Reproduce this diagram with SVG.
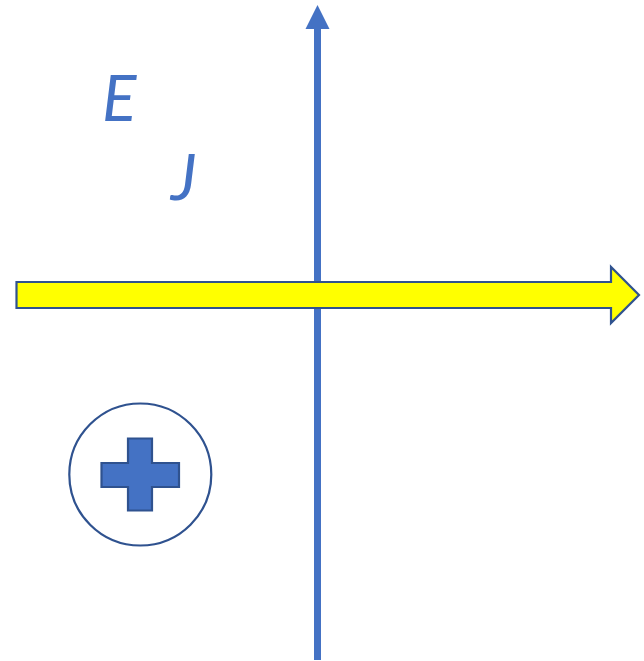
<svg xmlns="http://www.w3.org/2000/svg" width="644" height="661" viewBox="0 0 644 661">
<style>
.lbl{font-family:Lato,"Liberation Sans",Arial,sans-serif;font-style:italic;font-weight:400;font-size:64px;fill:#4472C4}
.outline{stroke:#2F528F;stroke-width:2.2}
</style>
<rect width="644" height="661" fill="#ffffff"/>
<g id="connectors">
<line x1="317.5" y1="27" x2="317.5" y2="660" stroke="#4472C4" stroke-width="7"/>
<polygon points="317.5,5 329.5,29 305.5,29" fill="#4472C4"/>
</g>
<g id="current-arrow">
<polygon class="outline" points="16.5,282 611,282 611,267 639,295 611,323 611,308 16.5,308" fill="#FFFF00" stroke-linejoin="miter"/>
</g>
<g id="label-E"><text class="lbl" x="102" y="121" textLength="40">E</text></g>
<g id="label-J"><text class="lbl" x="171" y="200">J</text></g>
<g id="charge">
<circle class="outline" cx="140.3" cy="474.5" r="71" fill="#ffffff"/>
<path class="outline" d="M128,438.5 H152 V463 H179 V487 H152 V510.5 H128 V487 H101.5 V463 H128 Z" fill="#4472C4"/>
</g>
</svg>
